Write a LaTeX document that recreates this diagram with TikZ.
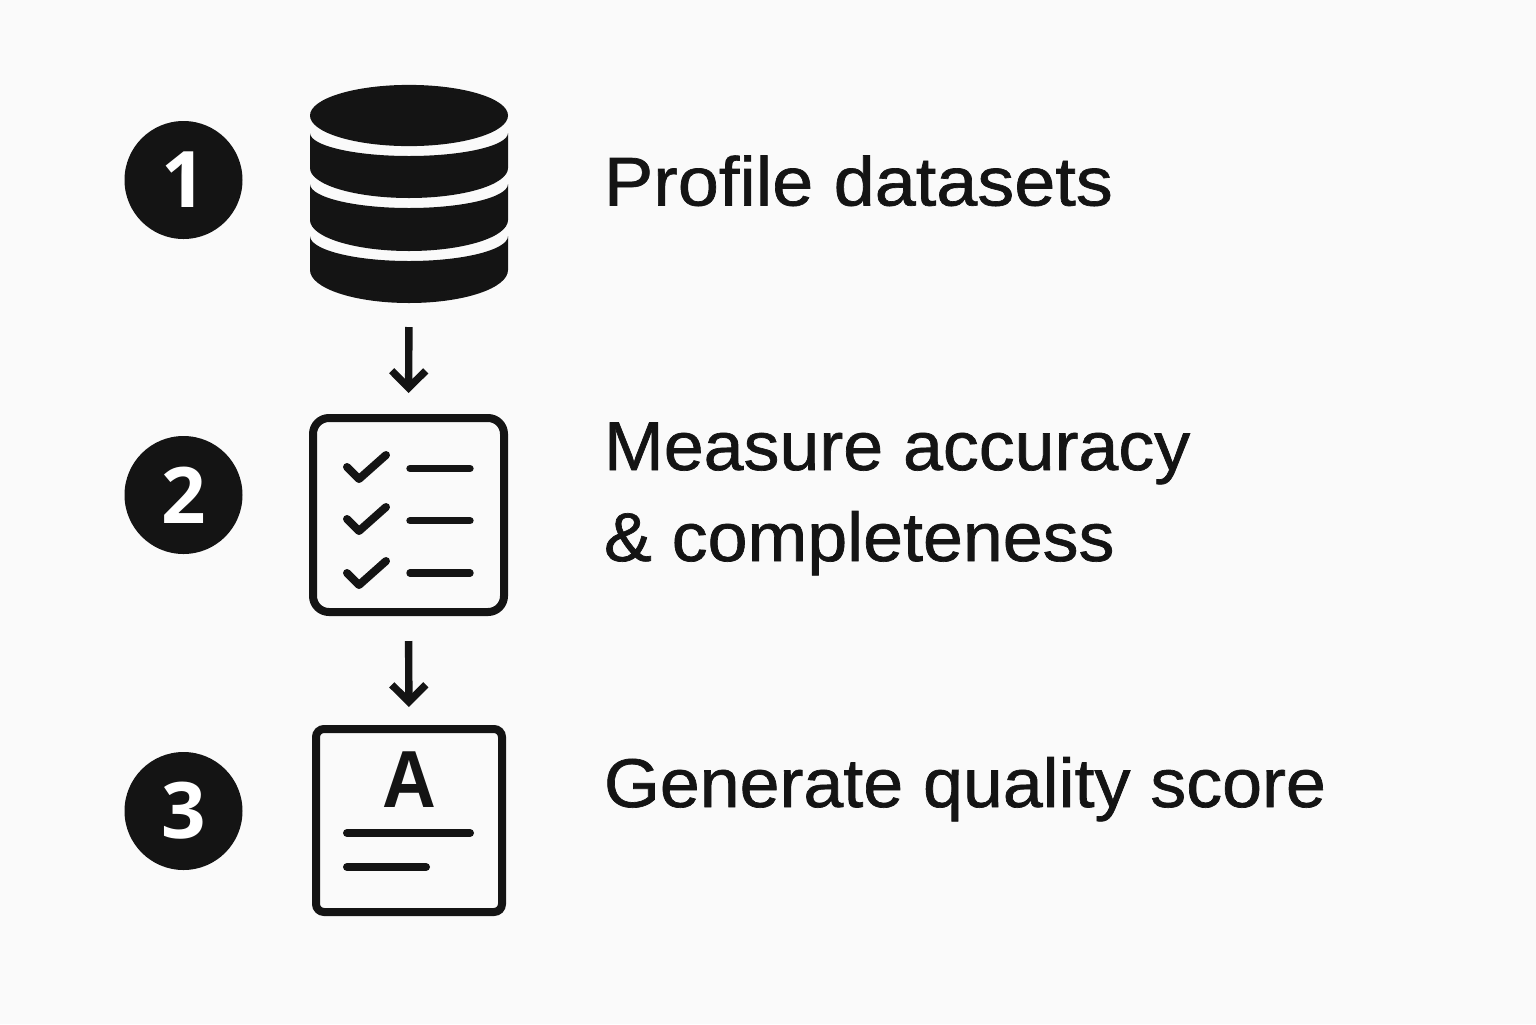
\documentclass[tikz,border=0pt]{standalone}
\usepackage{fontspec}
\setmainfont{Liberation Sans}
\newfontfamily\labelfont[FakeStretch=1.04,FakeBold=1]{Liberation Sans}
\newfontfamily\labelwide[FakeStretch=1.07,FakeBold=1]{Liberation Sans}
\newfontfamily\gradefont[FakeStretch=0.92]{Liberation Sans}
\newfontfamily\digitfont{Open Sans}
\usetikzlibrary{arrows.meta}
\definecolor{ink}{HTML}{141414}
\definecolor{paper}{HTML}{FAFAFA}
\newcommand{\dbband}[4]{% top edge y, top centre y, bottom edge y, bottom centre y
  \fill[ink] (310,#1) .. controls (310,{#1+0.5523*(#2-#1)}) and (354.3,#2) .. (409,#2)
    .. controls (463.7,#2) and (508,{#1+0.5523*(#2-#1)}) .. (508,#1)
    -- (508,#3) .. controls (508,{#3+0.5523*(#4-#3)}) and (463.7,#4) .. (409,#4)
    .. controls (354.3,#4) and (310,{#3+0.5523*(#4-#3)}) .. (310,#3) -- cycle;}
\newcommand{\chk}[1]{\draw[thinstroke,line width=4pt,line join=round] (347,{467+#1}) -- (359,{479+#1}) -- (386,{455+#1});}
\tikzset{
  x=0.5pt,y=-0.5pt,
  stepnum/.style={circle,fill=ink,text=white,minimum size=59pt,inner sep=0pt,outer sep=0pt,font=\digitfont\bfseries\fontsize{39}{39}\selectfont},
  label/.style={anchor=base west,inner sep=0pt,outer sep=0pt,text=ink,font=\labelfont\fontsize{34.5}{34.5}\selectfont},
  flow/.style={draw=ink,line width=3.7pt,-{Straight Barb[length=8.5pt,width=17pt,line width=3.7pt]}},
  thinstroke/.style={draw=ink,line width=3.7pt,line cap=round},
}
\begin{document}
\begin{tikzpicture}
\fill[paper] (0,0) rectangle (1536,1024);
\useasboundingbox (0,0) rectangle (1536,1024);
% step numbers
\node[stepnum] (n1) at (183.5,180) {1};
\node[stepnum] (n2) at (183.5,495) {2};
\node[stepnum] (n3) at (183.5,811) {3};
% database
\fill[ink] (409,115.5) ellipse [x radius=49.5pt,y radius=15.3pt];
\dbband{133}{156}{168}{198}
\dbband{184}{208}{220}{251}
\dbband{236}{261}{270}{303}
\node[inner sep=0pt,outer sep=0pt,minimum width=99pt,minimum height=109pt] (db) at (409,194) {};
% checklist
\node[draw=ink,line width=4pt,rounded corners=8pt,inner sep=0pt,outer sep=0pt,minimum width=95.5pt,minimum height=97pt] (list) at (408.5,515) {};
\chk{0}\chk{52}\chk{106}
\draw[thinstroke] (410,468.5) -- (470,468.5);
\draw[thinstroke] (410,520.7) -- (470,520.7);
\draw[thinstroke] (410,573) -- (470,573);
% score card
\node[draw=ink,line width=4pt,rounded corners=4pt,inner sep=0pt,outer sep=0pt,minimum width=93pt,minimum height=91.5pt] (card) at (409,820.5) {};
\node[inner sep=0pt,outer sep=0pt,anchor=base,text=ink,font=\gradefont\bfseries\fontsize{40.5}{40.5}\selectfont] (grade) at (409,807) {A};
\draw[thinstroke,line width=4pt] (347,833) -- (470,833);
\draw[thinstroke,line width=4pt] (347,867) -- (426,867);
% connectors
\draw[flow,shorten <=12pt,shorten >=12.5pt] (db.south) -- (list.north);
\draw[flow,shorten <=14.5pt,shorten >=11pt] (list.south) -- (card.north);
% labels
\node[label,font=\labelwide\fontsize{34.5}{34.5}\selectfont] (t1) at (604,205.5) {Profile datasets};
\node[label] (t2a) at (604,470) {Measure accuracy};
\node[label] (t2b) at (604,561) {\&\ completeness};
\node[label] (t3) at (604,807) {Generate quality score};
\end{tikzpicture}
\end{document}
